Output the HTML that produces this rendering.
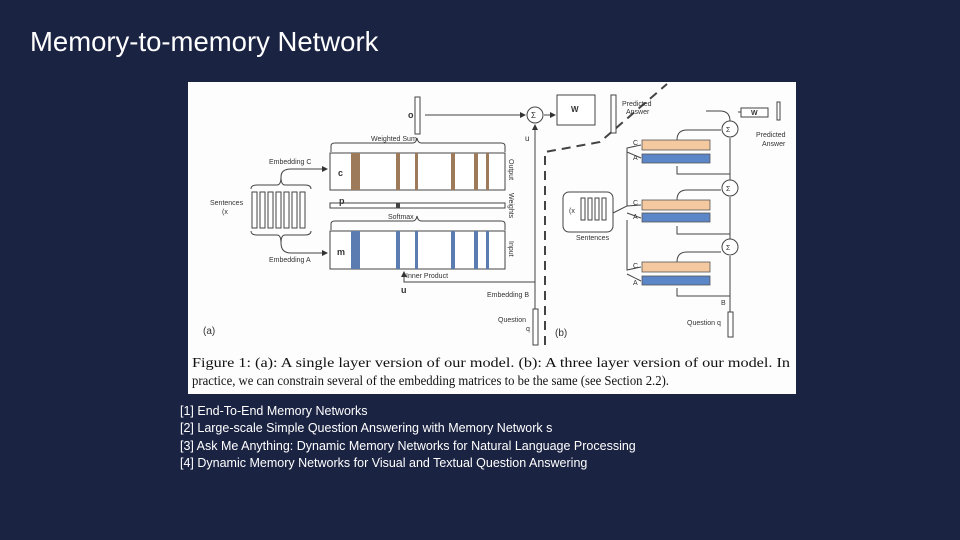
<!DOCTYPE html>
<html><head><meta charset="utf-8"><style>
html,body{margin:0;padding:0;background:#1b2343;}
body{width:960px;height:540px;overflow:hidden;position:relative;font-family:"Liberation Sans",sans-serif;}
.t{position:absolute;left:30px;top:26px;color:#fff;font-size:27.5px;}
.refs{position:absolute;left:180px;top:403px;color:#fff;font-size:12.5px;line-height:17.3px;}
</style></head><body>
<div class="t">Memory-to-memory Network</div>
<svg width="960" height="540" style="position:absolute;left:0;top:0" font-family="Liberation Sans, sans-serif">
<defs><marker id="a" markerWidth="6" markerHeight="6" refX="5" refY="3" orient="auto"><path d="M0,0L6,3L0,6z" fill="#333"/></marker></defs>
<rect x="188" y="82" width="608" height="312" fill="#fdfdfd"/>
<g stroke="#444" fill="none" stroke-width="1">
<g fill="#fff">
<rect x="252" y="192" width="5" height="36"/><rect x="260" y="192" width="5" height="36"/><rect x="268" y="192" width="5" height="36"/><rect x="276" y="192" width="5" height="36"/><rect x="284" y="192" width="5" height="36"/><rect x="292" y="192" width="5" height="36"/><rect x="300" y="192" width="5" height="36"/></g>
<path d="M251,189 q0,-4 6,-4 h20 q4,0 4,-8 q0,8 4,8 h20 q6,0 6,4"/>
<path d="M281,177 q0,-8 10,-8 h36" marker-end="url(#a)"/>
<path d="M251,231 q0,4 6,4 h20 q4,0 4,8 q0,-8 4,-8 h20 q6,0 6,-4"/>
<path d="M281,243 q0,10 10,10 h36" marker-end="url(#a)"/>
<rect x="330" y="153" width="175" height="37" fill="#fff"/>
<rect x="330" y="231" width="175" height="38" fill="#fff"/>
<rect x="330" y="203" width="175" height="5" fill="#fff"/>
<path d="M331,152 v-6 q0,-3 4,-3 h78 q3,0 4,-5 q1,5 4,5 h80 q4,0 4,3 v6"/>
<path d="M331,230 v-6 q0,-3 4,-3 h78 q3,0 4,-5 q1,5 4,5 h80 q4,0 4,3 v6"/>
<rect x="415" y="97" width="5" height="37" fill="#fff"/>
<path d="M425,115 H525" marker-end="url(#a)"/>
<circle cx="535" cy="115" r="8" fill="#fff"/>
<path d="M535,345 V125" marker-end="url(#a)"/>
<path d="M535,282 H404 V272" marker-end="url(#a)"/>
<rect x="533" y="309" width="5" height="36" fill="#fff"/>
<path d="M544,115 H555" marker-end="url(#a)"/>
<rect x="557" y="95" width="38" height="30" fill="#fff"/>
<rect x="611" y="95" width="5" height="38" fill="#fff"/>
<path d="M545,345 V152 L600,142 L667,84" stroke-dasharray="9,6" stroke-width="2"/>
<rect x="563" y="192" width="50" height="40" rx="6" fill="#fff"/>
<g fill="#fff"><rect x="581" y="198" width="4" height="22"/><rect x="588" y="198" width="4" height="22"/><rect x="595" y="198" width="4" height="22"/><rect x="602" y="198" width="4" height="22"/></g>
<path d="M613,213 L627,206 V148 L641,145 M627,152 L641,158 M627,206 L641,205 M627,213 L641,218 M627,220 V270 L641,267 M627,274 L641,281"/>
<path d="M730,337 V256 M730,239 V197 M730,180 V138 M730,121 q0,-10 -10,-10 h-14 M738,112 h3"/>
<path d="M677,140 q0,-10 10,-10 h34 M677,200 q0,-10 10,-10 h34 M677,262 q0,-10 10,-10 h34"/>
<path d="M730,296 H677 V288 M730,234 H677 V226 M730,174 H677 V166"/>
<circle cx="730" cy="129" r="8" fill="#fff"/><circle cx="730" cy="188" r="8" fill="#fff"/><circle cx="730" cy="247" r="8" fill="#fff"/>
<rect x="728" y="312" width="5" height="25" fill="#fff"/>
<rect x="741" y="108" width="27" height="9" fill="#fff"/>
<rect x="777" y="102" width="3" height="18" fill="#fff"/>
</g>
<g fill="#9c7a5a"><rect x="351" y="153" width="9" height="37"/><rect x="396" y="153" width="4" height="37"/><rect x="415" y="153" width="3" height="37"/><rect x="451" y="153" width="4" height="37"/><rect x="474" y="153" width="4" height="37"/><rect x="486" y="153" width="3" height="37"/></g>
<g fill="#5a7cb0"><rect x="351" y="231" width="9" height="38"/><rect x="396" y="231" width="4" height="38"/><rect x="415" y="231" width="3" height="38"/><rect x="451" y="231" width="4" height="38"/><rect x="474" y="231" width="4" height="38"/><rect x="486" y="231" width="3" height="38"/></g>
<rect x="396" y="203" width="4" height="5" fill="#444"/>
<g stroke="#555" stroke-width="0.8">
<rect x="642" y="140" width="68" height="10" fill="#f4c9a0"/><rect x="642" y="154" width="68" height="9" fill="#5b86c7"/>
<rect x="642" y="200" width="68" height="10" fill="#f4c9a0"/><rect x="642" y="213" width="68" height="9" fill="#5b86c7"/>
<rect x="642" y="262" width="68" height="10" fill="#f4c9a0"/><rect x="642" y="276" width="68" height="9" fill="#5b86c7"/>
</g>
<g fill="#333" font-size="7">
<text x="269" y="164">Embedding C</text><text x="269" y="262">Embedding A</text>
<text x="210" y="205">Sentences</text><text x="222" y="214">(x</text>
<text x="371" y="141">Weighted Sum</text><text x="388" y="219">Softmax</text>
<text x="406" y="278">Inner Product</text><text x="487" y="297">Embedding B</text>
<text x="498" y="322">Question</text><text x="526" y="331">q</text>
<text x="622" y="106">Predicted</text><text x="626" y="114">Answer</text>
<text x="576" y="240">Sentences</text><text x="569" y="213">(x</text>
<text x="756" y="137">Predicted</text><text x="762" y="146">Answer</text>
<text x="687" y="325">Question q</text><text x="721" y="305">B</text>
<text x="571" y="112" font-size="8" font-weight="bold">W</text><text x="751" y="115" font-size="7" font-weight="bold">W</text>
<text x="633" y="145">C</text><text x="633" y="160">A</text><text x="633" y="205">C</text><text x="633" y="219">A</text><text x="633" y="268">C</text><text x="633" y="285">A</text>
<text x="408" y="118" font-size="9" font-weight="bold">o</text>
<text x="338" y="176" font-size="9" font-weight="bold">c</text><text x="337" y="255" font-size="9" font-weight="bold">m</text><text x="339" y="204" font-size="9" font-weight="bold">p</text>
<text x="401" y="293" font-size="9" font-weight="bold">u</text><text x="525" y="141" font-size="8">u</text>
<text x="531" y="118" font-size="8">Σ</text><text x="726" y="132" font-size="7">Σ</text><text x="726" y="191" font-size="7">Σ</text><text x="726" y="250" font-size="7">Σ</text>
<text x="203" y="334" font-size="10">(a)</text><text x="555" y="336" font-size="10">(b)</text>
<text transform="translate(509,159) rotate(90)">Output</text><text transform="translate(509,193) rotate(90)">Weights</text><text transform="translate(509,241) rotate(90)">Input</text>
</g>
<g fill="#111" font-family="Liberation Serif, serif" font-size="13.5">
<text x="192" y="367" textLength="598" lengthAdjust="spacingAndGlyphs">Figure 1: (a): A single layer version of our model. (b): A three layer version of our model. In</text>
<text x="192" y="385" textLength="477" lengthAdjust="spacingAndGlyphs">practice, we can constrain several of the embedding matrices to be the same (see Section 2.2).</text>
</g>
</svg>
<div class="refs">[1] End-To-End Memory Networks<br>[2] Large-scale Simple Question Answering with Memory Network s<br>[3] Ask Me Anything: Dynamic Memory Networks for Natural Language Processing<br>[4] Dynamic Memory Networks for Visual and Textual Question Answering</div>
</body></html>
